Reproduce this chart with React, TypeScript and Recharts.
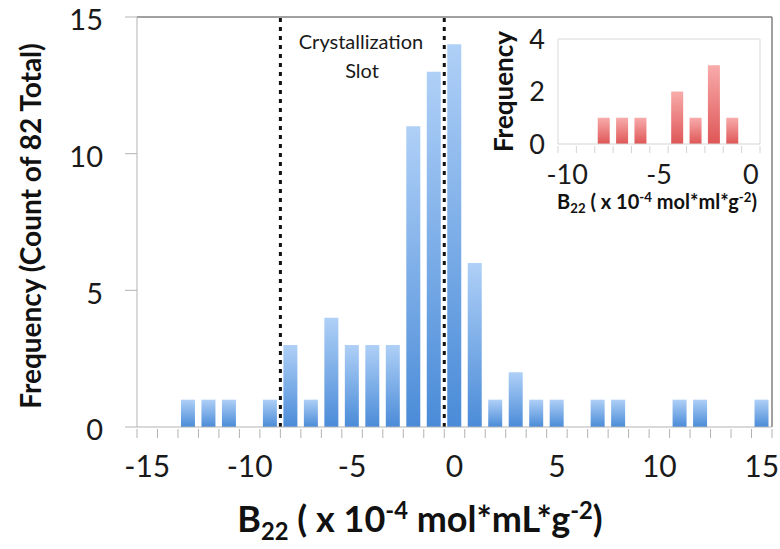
import React from 'react';
import { BarChart, Bar, XAxis, YAxis, ReferenceLine, Label } from 'recharts';

// main histogram: B22 bins and counts
const bins = [-15, -14, -13, -12, -11, -10, -9, -8, -7, -6, -5, -4, -3, -2, -1, 0, 1, 2, 3, 4, 5, 6, 7, 8, 9, 10, 11, 12, 13, 14, 15];
const counts = [0, 0, 1, 1, 1, 0, 1, 3, 1, 4, 3, 3, 3, 11, 13, 14, 6, 1, 2, 1, 1, 0, 1, 1, 0, 0, 1, 1, 0, 0, 1];
const yTicks = [0, 5, 10, 15];

// inset: crystallized subset
const insetBins = [-10, -9, -8, -7, -6, -5, -4, -3, -2, -1, 0];
const insetCounts = [0, 0, 1, 1, 1, 0, 2, 1, 3, 1, 0];
const insetYTicks = [0, 2, 4];

// crystallization slot edges (left edge of these bins)
const slotStart = -8;
const slotEnd = 0;

const mainData = bins.map((b, i) => ({ bin: b, count: counts[i] }));
const insetData = insetBins.map((b, i) => ({ bin: b, count: insetCounts[i] }));

const FONT = 'Lato, "Open Sans", sans-serif';
const TEXT = '#1a1a1a';
const AXIS = '#b3b3b3';

const MAIN_W = 780;
const MAIN_H = 549;
const MAIN_MARGIN = { top: 17, right: 8, left: 77, bottom: 72 };
const MAIN_BAND = (MAIN_W - MAIN_MARGIN.left - 60 - MAIN_MARGIN.right) / bins.length;

const INSET_W = 290;
const INSET_H = 200;
const INSET_MARGIN = { top: 19, right: 10, left: 38, bottom: 36 };
const INSET_BAND = (INSET_W - INSET_MARGIN.left - 40 - INSET_MARGIN.right) / insetBins.length;

const makeTick = (band: number, last: number, tickLen: number, labelDy: number, fontSize: number, color: string) =>
  (props: any) => {
    const { x, y, payload } = props;
    const v = payload.value;
    return (
      <g>
        <line x1={x - band / 2} x2={x - band / 2} y1={y} y2={y + tickLen} stroke={color} />
        {v === last && <line x1={x + band / 2} x2={x + band / 2} y1={y} y2={y + tickLen} stroke={color} />}
        {v % 5 === 0 && (
          <text x={x} y={y + labelDy} textAnchor="middle" fontSize={fontSize} fontFamily={FONT} fill={TEXT}>
            {v}
          </text>
        )}
      </g>
    );
  };

const B22Title = ({ x, y, size, unit }: { x: number; y: number; size: number; unit: string }) => {
  const small = size * 0.66;
  return (
    <text x={x} y={y} textAnchor="middle" fontSize={size} fontWeight="bold" fontFamily={FONT} fill="#111">
      <tspan>B</tspan>
      <tspan fontSize={small} dy={size * 0.22}>22</tspan>
      <tspan dy={-size * 0.22}>{' ( x 10'}</tspan>
      <tspan fontSize={small} dy={-size * 0.36}>-4</tspan>
      <tspan dy={size * 0.36}>{' mol*' + unit + '*g'}</tspan>
      <tspan fontSize={small} dy={-size * 0.36}>-2</tspan>
      <tspan dy={size * 0.36}>)</tspan>
    </text>
  );
};

const MainTitles = () => (
  <g>
    <B22Title x={420} y={532} size={36} unit="mL" />
    <text x={361} y={49} textAnchor="middle" fontSize={20} fontFamily={FONT} fill={TEXT}>
      Crystallization
    </text>
    <text x={362} y={78} textAnchor="middle" fontSize={20} fontFamily={FONT} fill={TEXT}>
      Slot
    </text>
  </g>
);

const InsetTitles = () => <B22Title x={177} y={189} size={20} unit="ml" />;

export default function App() {
  return (
    <div style={{ position: 'absolute', left: 0, top: 0, width: MAIN_W, height: MAIN_H, background: '#fff' }}>
      <BarChart width={MAIN_W} height={MAIN_H} data={mainData} margin={MAIN_MARGIN} barSize={14}>
        <defs>
          <linearGradient id="blueFill" x1="0" y1="0" x2="0" y2="1">
            <stop offset="0%" stopColor="#afd0f7" />
            <stop offset="100%" stopColor="#4a8bd8" />
          </linearGradient>
        </defs>
        <XAxis
          dataKey="bin"
          type="category"
          height={50}
          interval={0}
          tickSize={0}
          tickLine={false}
          axisLine={{ stroke: AXIS }}
          tick={makeTick(MAIN_BAND, bins[bins.length - 1], 9, 48, 30, AXIS)}
        >
          <Label content={() => <MainTitles />} />
        </XAxis>
        <YAxis
          width={60}
          domain={[0, 15]}
          ticks={yTicks}
          interval={0}
          tickSize={12}
          tickMargin={22}
          tickLine={{ stroke: AXIS }}
          axisLine={{ stroke: AXIS }}
          tick={{ fontSize: 29, fill: TEXT, fontFamily: FONT, dy: 3 }}
        >
          <Label
            angle={-90}
            value="Frequency (Count of 82 Total)"
            position="center"
            dx={-76}
            dy={4}
            style={{ fontSize: 28, fontWeight: 'bold', fontFamily: FONT, fill: '#111', textAnchor: 'middle' }}
          />
        </YAxis>
        <Bar dataKey="count" fill="url(#blueFill)" isAnimationActive={false} />
        <ReferenceLine y={15} stroke="#808080" strokeWidth={1.5} />
        <ReferenceLine x={bins[bins.length - 1]} position="end" stroke="#808080" strokeWidth={1.5} />
        <ReferenceLine x={slotStart} position="start" stroke="#111" strokeWidth={3} strokeDasharray="4 5" />
        <ReferenceLine x={slotEnd} position="start" stroke="#111" strokeWidth={3} strokeDasharray="4 5" />
      </BarChart>

      <div style={{ position: 'absolute', left: 480, top: 20, width: INSET_W, height: INSET_H }}>
        <BarChart width={INSET_W} height={INSET_H} data={insetData} margin={INSET_MARGIN} barSize={12}>
          <defs>
            <linearGradient id="redFill" x1="0" y1="0" x2="0" y2="1">
              <stop offset="0%" stopColor="#f8abab" />
              <stop offset="100%" stopColor="#df5656" />
            </linearGradient>
          </defs>
          <XAxis
            dataKey="bin"
            type="category"
            height={40}
            interval={0}
            tickSize={0}
            tickLine={false}
            axisLine={{ stroke: '#d4d4d4' }}
            tick={makeTick(INSET_BAND, insetBins[insetBins.length - 1], 7, 38, 27, '#d4d4d4')}
          >
            <Label content={() => <InsetTitles />} />
          </XAxis>
          <YAxis
            width={40}
            domain={[0, 4]}
            ticks={insetYTicks}
            interval={0}
            tickSize={0}
            tickMargin={13}
            tickLine={false}
            axisLine={false}
            tick={{ fontSize: 27, fill: TEXT, fontFamily: FONT }}
          >
            <Label
              angle={-90}
              value="Frequency"
              position="center"
              dx={-34}
              style={{ fontSize: 26, fontWeight: 'bold', fontFamily: FONT, fill: '#111', textAnchor: 'middle' }}
            />
          </YAxis>
          <Bar dataKey="count" fill="url(#redFill)" isAnimationActive={false} />
          <ReferenceLine y={4} stroke="#d9d9d9" />
          <ReferenceLine x={insetBins[0]} position="start" stroke="#d9d9d9" />
          <ReferenceLine x={insetBins[insetBins.length - 1]} position="end" stroke="#d9d9d9" />
        </BarChart>
      </div>
    </div>
  );
}
